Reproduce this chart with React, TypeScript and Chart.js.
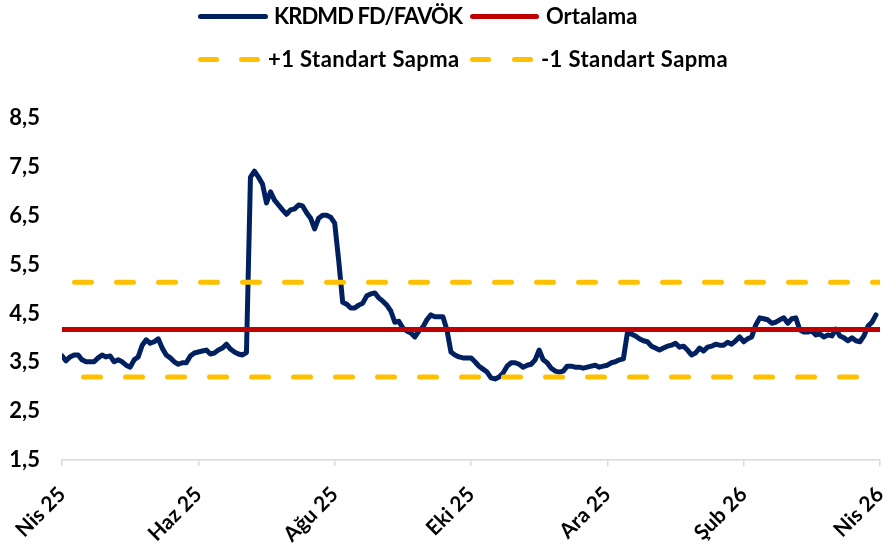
import React, { useEffect, useRef } from "react";
import { Chart, registerables } from "chart.js";

Chart.register(...registerables);

// ---- data ----
const xTickLabels = ["Nis 25", "Haz 25", "Ağu 25", "Eki 25", "Ara 25", "Şub 26", "Nis 26"];
const pointsPerTick = 34;
const yTickValues = [1.5, 2.5, 3.5, 4.5, 5.5, 6.5, 7.5, 8.5];

const krdmdFdFavok = [
  3.63, 3.53, 3.61, 3.65, 3.65, 3.55, 3.51, 3.51, 3.51, 3.59,
  3.65, 3.61, 3.63, 3.51, 3.55, 3.51, 3.44, 3.40, 3.55, 3.61,
  3.85, 3.96, 3.89, 3.92, 3.98, 3.79, 3.65, 3.59, 3.51, 3.46,
  3.49, 3.49, 3.63, 3.69, 3.71, 3.73, 3.75, 3.67, 3.69, 3.75,
  3.79, 3.87, 3.77, 3.71, 3.67, 3.65, 3.70, 7.29, 7.41, 7.29,
  7.15, 6.76, 6.99, 6.82, 6.72, 6.62, 6.53, 6.62, 6.64, 6.72,
  6.70, 6.56, 6.45, 6.23, 6.45, 6.51, 6.51, 6.47, 6.35, 5.59,
  4.73, 4.69, 4.61, 4.61, 4.67, 4.71, 4.86, 4.90, 4.92, 4.82,
  4.75, 4.67, 4.55, 4.32, 4.34, 4.20, 4.14, 4.10, 4.02, 4.14,
  4.22, 4.37, 4.47, 4.43, 4.43, 4.43, 4.16, 3.71, 3.65, 3.61,
  3.59, 3.59, 3.59, 3.51, 3.42, 3.36, 3.30, 3.18, 3.16, 3.20,
  3.28, 3.42, 3.49, 3.49, 3.46, 3.40, 3.44, 3.46, 3.55, 3.75,
  3.55, 3.49, 3.38, 3.32, 3.30, 3.32, 3.42, 3.42, 3.40, 3.40,
  3.38, 3.40, 3.42, 3.44, 3.40, 3.42, 3.44, 3.49, 3.51, 3.55,
  3.57, 4.10, 4.08, 4.04, 3.98, 3.94, 3.92, 3.83, 3.79, 3.75,
  3.79, 3.83, 3.85, 3.89, 3.81, 3.83, 3.75, 3.65, 3.69, 3.79,
  3.73, 3.81, 3.83, 3.87, 3.85, 3.85, 3.91, 3.87, 3.94, 4.02,
  3.92, 3.98, 4.02, 4.26, 4.41, 4.39, 4.37, 4.30, 4.32, 4.37,
  4.41, 4.30, 4.39, 4.41, 4.16, 4.12, 4.12, 4.14, 4.06, 4.08,
  4.02, 4.06, 4.04, 4.18, 4.04, 4.00, 3.94, 4.00, 3.94, 3.92,
  4.04, 4.24, 4.32, 4.47,
];

const ortalama = 4.17;
const plusOneSd = 5.14;
const minusOneSd = 3.2;

const seriesLabels = ["KRDMD FD/FAVÖK", "Ortalama", "+1 Standart Sapma", "-1 Standart Sapma"];
const NAVY = "#002060";
const RED = "#C00000";
const YELLOW = "#FFC000";
const FONT = "Lato, 'DejaVu Sans', sans-serif";

function LegendLine({ left, top, width, color }: { left: number; top: number; width: number; color: string }) {
  return (
    <div
      style={{
        position: "absolute",
        left,
        top: top - 2.5,
        width,
        height: 5,
        borderRadius: 3,
        background: color,
      }}
    />
  );
}

function LegendText({ left, top, text, spacing = 0 }: { left: number; top: number; text: string; spacing?: number }) {
  return (
    <div
      style={{
        position: "absolute",
        left,
        top,
        transform: "translateY(-50%)",
        font: `bold 22px ${FONT}`,
        letterSpacing: spacing,
        color: "#000",
        whiteSpace: "nowrap",
        lineHeight: "26px",
      }}
    >
      {text}
    </div>
  );
}

export default function App() {
  const canvasRef = useRef<HTMLCanvasElement>(null);

  useEffect(() => {
    const lastIndex = (xTickLabels.length - 1) * pointsPerTick;
    const idx = Array.from({ length: lastIndex + 1 }, (_, i) => i);
    const flat = (v: number) => idx.map((i) => ({ x: i, y: v }));
    const main = krdmdFdFavok.map((v, i) => ({ x: i, y: v }));

    const chart = new Chart(canvasRef.current as HTMLCanvasElement, {
      type: "line",
      data: {
        datasets: [
          {
            label: seriesLabels[0],
            data: main,
            borderColor: NAVY,
            borderWidth: 5,
            pointRadius: 0,
            borderJoinStyle: "round",
            borderCapStyle: "round",
            tension: 0,
            order: 4,
          },
          {
            label: seriesLabels[1],
            data: flat(ortalama),
            borderColor: RED,
            borderWidth: 5,
            pointRadius: 0,
            order: 3,
          },
          {
            label: seriesLabels[2],
            data: flat(plusOneSd),
            borderColor: YELLOW,
            borderWidth: 5,
            pointRadius: 0,
            borderDash: [17, 25],
            borderDashOffset: 29.5,
            borderCapStyle: "round",
            order: 2,
          },
          {
            label: seriesLabels[3],
            data: flat(minusOneSd),
            borderColor: YELLOW,
            borderWidth: 5,
            pointRadius: 0,
            borderDash: [17, 25],
            borderDashOffset: 20.5,
            borderCapStyle: "round",
            order: 1,
          },
        ],
      },
      options: {
        responsive: false,
        animation: false,
        layout: { padding: { top: 118, right: 3, left: 0, bottom: 0 } },
        plugins: { legend: { display: false }, tooltip: { enabled: false } },
        scales: {
          x: {
            type: "linear",
            min: 0,
            max: lastIndex,
            afterBuildTicks: (s: any) => {
              s.ticks = xTickLabels.map((_, i) => ({ value: i * pointsPerTick }));
            },
            afterFit: (s: any) => {
              s.height = 85;
              s.paddingRight = 0;
            },
            ticks: {
              autoSkip: false,
              maxRotation: 45,
              minRotation: 45,
              padding: 16,
              color: "#000",
              font: { family: FONT, weight: "bold", size: 21 },
              callback: (v: any) => xTickLabels[Math.round(Number(v) / pointsPerTick)],
            },
            grid: {
              display: true,
              drawOnChartArea: false,
              drawTicks: true,
              tickLength: 6,
              color: "#d9d9d9",
              lineWidth: 1.5,
            },
            border: { display: true, color: "#d9d9d9", width: 1.5 },
          },
          y: {
            min: 1.5,
            max: 8.5,
            afterBuildTicks: (s: any) => {
              s.ticks = yTickValues.map((v) => ({ value: v }));
            },
            afterFit: (s: any) => {
              s.width = 62;
            },
            ticks: {
              padding: 14,
              color: "#000",
              font: { family: FONT, weight: "bold", size: 22 },
              callback: (v: any) => Number(v).toFixed(1).replace(".", ","),
            },
            grid: { display: false },
            border: { display: false },
          },
        },
      },
    } as any);

    return () => chart.destroy();
  }, []);

  return (
    <div style={{ position: "absolute", left: 0, top: 0, width: 883, height: 545, background: "#fff" }}>
      <canvas ref={canvasRef} width={883} height={545} style={{ position: "absolute", left: 0, top: 0 }} />
      <LegendLine left={198} top={16} width={70} color={NAVY} />
      <LegendText left={274} top={16} text={seriesLabels[0]} spacing={-0.9} />
      <LegendLine left={470} top={16} width={69} color={RED} />
      <LegendText left={546} top={16} text={seriesLabels[1]} />
      <LegendLine left={198} top={59} width={21} color={YELLOW} />
      <LegendLine left={239} top={59} width={21} color={YELLOW} />
      <LegendText left={268} top={59} text={seriesLabels[2]} spacing={0.4} />
      <LegendLine left={470} top={59} width={21} color={YELLOW} />
      <LegendLine left={512} top={59} width={21} color={YELLOW} />
      <LegendText left={541} top={59} text={seriesLabels[3]} spacing={0.4} />
    </div>
  );
}
